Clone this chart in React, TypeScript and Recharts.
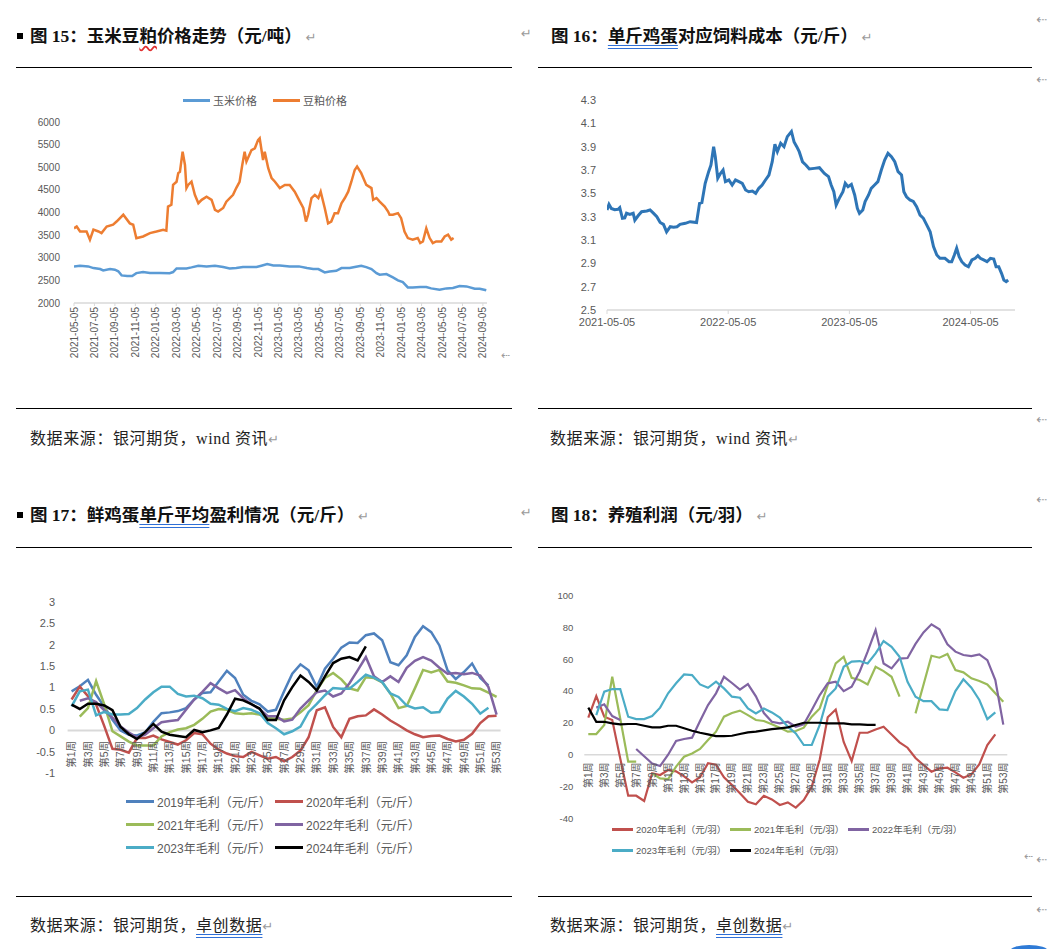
import React from 'react';
import { LineChart, Line, XAxis, YAxis, ReferenceLine } from 'recharts';

// 图15 玉米 / 豆粕价格（元/吨）
const feedTickLabels = [
  '2021-05-05', '2021-07-05', '2021-09-05', '2021-11-05', '2022-01-05', '2022-03-05', '2022-05-05',
  '2022-07-05', '2022-09-05', '2022-11-05', '2023-01-05', '2023-03-05', '2023-05-05', '2023-07-05',
  '2023-09-05', '2023-11-05', '2024-01-05', '2024-03-05', '2024-05-05', '2024-07-05', '2024-09-05',
];
const feedPriceTicks = [2000, 2500, 3000, 3500, 4000, 4500, 5000, 5500, 6000];

const cornPrice: [string, number][] = [
  ['2021-05-05', 2809], ['2021-05-23', 2824], ['2021-06-17', 2809], ['2021-07-02', 2772], ['2021-07-22', 2750],
  ['2021-07-31', 2720], ['2021-08-21', 2750], ['2021-09-05', 2735], ['2021-09-15', 2700], ['2021-09-25', 2610],
  ['2021-10-11', 2595], ['2021-10-26', 2595], ['2021-11-08', 2660], ['2021-11-28', 2684], ['2021-12-18', 2665],
  ['2022-01-17', 2665], ['2022-02-16', 2660], ['2022-02-26', 2684], ['2022-03-06', 2765], ['2022-04-05', 2765],
  ['2022-04-20', 2787], ['2022-05-10', 2824], ['2022-06-04', 2809], ['2022-06-29', 2824], ['2022-07-23', 2794],
  ['2022-08-12', 2765], ['2022-09-01', 2772], ['2022-09-21', 2794], ['2022-10-31', 2794], ['2022-11-15', 2824],
  ['2022-12-02', 2860], ['2022-12-20', 2830], ['2023-01-09', 2830], ['2023-02-08', 2809], ['2023-03-05', 2809],
  ['2023-03-29', 2772], ['2023-04-17', 2750], ['2023-05-02', 2750], ['2023-05-21', 2676], ['2023-06-05', 2698],
  ['2023-06-25', 2713], ['2023-07-10', 2772], ['2023-08-04', 2772], ['2023-08-19', 2794], ['2023-09-08', 2824],
  ['2023-09-23', 2794], ['2023-10-08', 2750], ['2023-10-23', 2660], ['2023-11-02', 2625], ['2023-11-22', 2640],
  ['2023-12-11', 2566], ['2023-12-26', 2500], ['2024-01-10', 2463], ['2024-01-25', 2345], ['2024-02-09', 2345],
  ['2024-03-01', 2353], ['2024-03-19', 2353], ['2024-04-03', 2323], ['2024-04-28', 2294], ['2024-05-18', 2323],
  ['2024-06-07', 2330], ['2024-06-27', 2375], ['2024-07-17', 2367], ['2024-08-11', 2316], ['2024-08-26', 2316],
  ['2024-09-15', 2280],
];

const mealPrice: [string, number][] = [
  ['2021-05-05', 3650], ['2021-05-13', 3690], ['2021-05-23', 3580], ['2021-06-12', 3580], ['2021-06-22', 3400],
  ['2021-07-02', 3620], ['2021-07-17', 3580], ['2021-07-26', 3545], ['2021-08-11', 3690], ['2021-08-30', 3730],
  ['2021-09-10', 3800], ['2021-09-30', 3950], ['2021-10-19', 3760], ['2021-10-29', 3730], ['2021-11-08', 3430],
  ['2021-11-28', 3470], ['2021-12-18', 3545], ['2022-01-07', 3580], ['2022-01-27', 3620], ['2022-02-06', 3600],
  ['2022-02-11', 4130], ['2022-02-21', 4170], ['2022-02-26', 4610], ['2022-03-06', 4680], ['2022-03-11', 4870],
  ['2022-03-16', 4900], ['2022-03-24', 5345], ['2022-03-31', 5050], ['2022-04-05', 4540], ['2022-04-10', 4610],
  ['2022-04-20', 4680], ['2022-04-30', 4390], ['2022-05-10', 4205], ['2022-05-20', 4280], ['2022-06-04', 4350],
  ['2022-06-19', 4280], ['2022-06-29', 4060], ['2022-07-08', 4020], ['2022-07-23', 4100], ['2022-08-02', 4240],
  ['2022-08-22', 4390], ['2022-09-01', 4540], ['2022-09-11', 4680], ['2022-09-19', 5050], ['2022-09-26', 5345],
  ['2022-10-01', 5125], ['2022-10-16', 5380], ['2022-10-26', 5420], ['2022-11-05', 5600], ['2022-11-10', 5640],
  ['2022-11-20', 5160], ['2022-11-25', 5340], ['2022-12-05', 4980], ['2022-12-15', 4760], ['2022-12-25', 4680],
  ['2023-01-09', 4540], ['2023-01-24', 4610], ['2023-02-08', 4610], ['2023-02-23', 4460], ['2023-03-08', 4240],
  ['2023-03-18', 4100], ['2023-03-26', 3800], ['2023-04-02', 3950], ['2023-04-12', 4320], ['2023-04-22', 4390],
  ['2023-05-02', 4320], ['2023-05-09', 4460], ['2023-05-21', 4100], ['2023-05-31', 3760], ['2023-06-10', 3800],
  ['2023-06-20', 3985], ['2023-06-30', 3985], ['2023-07-10', 4205], ['2023-07-20', 4320], ['2023-07-30', 4460],
  ['2023-08-09', 4680], ['2023-08-19', 4940], ['2023-08-26', 5015], ['2023-09-08', 4870], ['2023-09-23', 4610],
  ['2023-10-08', 4540], ['2023-10-13', 4280], ['2023-10-23', 4320], ['2023-11-02', 4240], ['2023-11-17', 4130],
  ['2023-11-27', 4020], ['2023-12-01', 3950], ['2023-12-11', 3950], ['2023-12-26', 3985], ['2024-01-05', 3875],
  ['2024-01-15', 3580], ['2024-01-25', 3435], ['2024-02-09', 3400], ['2024-02-24', 3435], ['2024-03-01', 3325],
  ['2024-03-09', 3360], ['2024-03-19', 3650], ['2024-03-29', 3435], ['2024-04-08', 3325], ['2024-04-18', 3360],
  ['2024-05-03', 3360], ['2024-05-13', 3470], ['2024-05-23', 3510], ['2024-06-02', 3400], ['2024-06-09', 3435],
];

// 图16 单斤鸡蛋对应饲料成本（元/斤）
const eggCostTickLabels = ['2021-05-05', '2022-05-05', '2023-05-05', '2024-05-05'];
const eggCostYTicks = [2.5, 2.7, 2.9, 3.1, 3.3, 3.5, 3.7, 3.9, 4.1, 4.3];
const eggFeedCost: [string, number][] = [
  ['2021-05-05', 3.357], ['2021-05-11', 3.406], ['2021-05-18', 3.37], ['2021-05-28', 3.36], ['2021-06-08', 3.363],
  ['2021-06-13', 3.377], ['2021-06-21', 3.286], ['2021-06-28', 3.29], ['2021-07-03', 3.33], ['2021-07-13', 3.32],
  ['2021-07-23', 3.33], ['2021-07-28', 3.27], ['2021-08-08', 3.31], ['2021-08-18', 3.343], ['2021-09-03', 3.349],
  ['2021-09-13', 3.357], ['2021-09-23', 3.33], ['2021-10-03', 3.3], ['2021-10-13', 3.25], ['2021-10-23', 3.234],
  ['2021-11-02', 3.17], ['2021-11-13', 3.214], ['2021-11-23', 3.21], ['2021-12-03', 3.214], ['2021-12-12', 3.234],
  ['2021-12-28', 3.243], ['2022-01-12', 3.257], ['2022-02-01', 3.25], ['2022-02-10', 3.414], ['2022-02-17', 3.42],
  ['2022-02-27', 3.586], ['2022-03-07', 3.686], ['2022-03-14', 3.743], ['2022-03-22', 3.9], ['2022-03-27', 3.814],
  ['2022-04-04', 3.63], ['2022-04-12', 3.67], ['2022-04-20', 3.7], ['2022-04-27', 3.6], ['2022-05-07', 3.614],
  ['2022-05-17', 3.571], ['2022-05-27', 3.614], ['2022-06-07', 3.6], ['2022-06-17', 3.586], ['2022-06-27', 3.529],
  ['2022-07-06', 3.514], ['2022-07-17', 3.52], ['2022-07-27', 3.5], ['2022-08-06', 3.543], ['2022-08-16', 3.571],
  ['2022-08-26', 3.614], ['2022-09-06', 3.657], ['2022-09-16', 3.771], ['2022-09-24', 3.92], ['2022-10-01', 3.857],
  ['2022-10-11', 3.93], ['2022-10-21', 3.9], ['2022-10-31', 3.986], ['2022-11-13', 4.03], ['2022-11-21', 3.94],
  ['2022-11-29', 3.9], ['2022-12-06', 3.857], ['2022-12-16', 3.77], ['2022-12-26', 3.743], ['2023-01-06', 3.709],
  ['2023-01-21', 3.714], ['2023-02-06', 3.72], ['2023-02-21', 3.671], ['2023-03-03', 3.643], ['2023-03-11', 3.571],
  ['2023-03-19', 3.514], ['2023-03-26', 3.4], ['2023-04-05', 3.457], ['2023-04-16', 3.514], ['2023-04-23', 3.586],
  ['2023-05-01', 3.557], ['2023-05-11', 3.577], ['2023-05-21', 3.486], ['2023-05-29', 3.371], ['2023-06-05', 3.329],
  ['2023-06-15', 3.357], ['2023-06-22', 3.429], ['2023-07-02', 3.486], ['2023-07-10', 3.543], ['2023-07-20', 3.571],
  ['2023-07-30', 3.6], ['2023-08-10', 3.7], ['2023-08-20', 3.786], ['2023-08-30', 3.843], ['2023-09-10', 3.814],
  ['2023-09-20', 3.771], ['2023-09-30', 3.686], ['2023-10-10', 3.657], ['2023-10-17', 3.514], ['2023-10-25', 3.471],
  ['2023-11-05', 3.443], ['2023-11-15', 3.43], ['2023-11-25', 3.386], ['2023-12-05', 3.314], ['2023-12-15', 3.286],
  ['2023-12-25', 3.229], ['2024-01-05', 3.171], ['2024-01-15', 3.043], ['2024-01-25', 2.971], ['2024-02-04', 2.943],
  ['2024-02-19', 2.943], ['2024-03-01', 2.914], ['2024-03-09', 2.914], ['2024-03-17', 2.971], ['2024-03-24', 3.029],
  ['2024-04-01', 2.957], ['2024-04-09', 2.914], ['2024-04-19', 2.886], ['2024-04-29', 2.871], ['2024-05-09', 2.929],
  ['2024-05-19', 2.943], ['2024-05-27', 2.966], ['2024-06-04', 2.943], ['2024-06-14', 2.929], ['2024-06-24', 2.914],
  ['2024-07-04', 2.943], ['2024-07-14', 2.937], ['2024-07-21', 2.871], ['2024-07-29', 2.871], ['2024-08-07', 2.814],
  ['2024-08-14', 2.757], ['2024-08-21', 2.743], ['2024-08-27', 2.757],
];

// 周度类目（图17、图18共用）
const weeks = [
  '第1周', '第2周', '第3周', '第4周', '第5周', '第6周', '第7周', '第8周', '第9周', '第10周',
  '第11周', '第12周', '第13周', '第14周', '第15周', '第16周', '第17周', '第18周', '第19周', '第20周',
  '第21周', '第22周', '第23周', '第24周', '第25周', '第26周', '第27周', '第28周', '第29周', '第30周',
  '第31周', '第32周', '第33周', '第34周', '第35周', '第36周', '第37周', '第38周', '第39周', '第40周',
  '第41周', '第42周', '第43周', '第44周', '第45周', '第46周', '第47周', '第48周', '第49周', '第50周',
  '第51周', '第52周', '第53周',
];

// 图17 鲜鸡蛋单斤平均盈利（元/斤）
const eggProfit2019 = [0.91, 1.03, 1.18, 0.83, 0.55, 0.25, 0.0, -0.1, -0.12, -0.05, 0.2, 0.4, 0.42, 0.45, 0.52, 0.72, 0.87, 0.89, 1.14, 1.39, 1.22, 0.83, 0.69, 0.61, 0.44, 0.48, 0.91, 1.32, 1.54, 1.4, 1.01, 1.44, 1.67, 1.93, 2.05, 2.04, 2.22, 2.26, 2.1, 1.59, 1.52, 1.75, 2.18, 2.43, 2.29, 1.98, 1.4, 1.2, 1.36, 1.56, 1.22, 1.05, null];
const eggProfit2020 = [0.72, 1.02, 0.8, 0.6, 0.1, -0.43, -0.45, -0.52, -0.18, -0.18, -0.12, -0.21, -0.27, -0.33, -0.23, -0.06, -0.09, -0.31, -0.45, -0.54, -0.6, -0.62, -0.5, -0.58, -0.66, -0.62, -0.72, -0.62, -0.47, -0.16, 0.47, 0.54, 0.08, -0.16, 0.27, 0.33, 0.35, 0.49, 0.37, 0.23, 0.12, 0.0, -0.09, -0.16, -0.13, -0.12, -0.2, -0.26, -0.22, -0.08, 0.17, 0.33, 0.34];
const eggProfit2021 = [null, 0.32, 0.52, 1.15, 0.6, -0.02, -0.14, -0.26, -0.35, -0.35, -0.35, -0.14, -0.04, 0.02, 0.05, 0.13, 0.27, 0.44, 0.5, 0.48, 0.4, 0.38, 0.4, 0.37, 0.29, 0.27, 0.25, 0.28, 0.42, 0.59, 0.94, 1.22, 1.34, 1.19, 0.98, 0.93, 1.24, 1.22, 1.12, 0.86, 0.52, 0.57, 0.98, 1.41, 1.35, 1.41, 1.14, 1.11, 1.05, 0.98, 0.97, 0.88, 0.78];
const eggProfit2022 = [null, 0.69, 0.75, 0.66, 0.47, 0.3, 0.09, -0.05, -0.16, -0.1, 0.05, 0.19, 0.22, 0.24, 0.48, 0.72, 0.9, 1.1, 0.98, 0.87, 0.94, 0.75, 0.61, 0.5, 0.33, 0.33, 0.21, 0.25, 0.51, 0.7, 0.89, 0.93, 0.79, 0.86, 1.1, 1.4, 1.71, 1.26, 1.13, 1.26, 1.13, 1.46, 1.62, 1.71, 1.63, 1.46, 1.32, 1.34, 1.31, 1.34, 1.28, 1.01, 0.37];
const eggProfit2023 = [0.56, 0.91, 0.95, 0.35, 0.43, 0.37, 0.37, 0.38, 0.52, 0.72, 0.89, 1.02, 1.02, 0.85, 0.79, 0.81, 0.75, 0.62, 0.6, 0.5, 0.45, 0.52, 0.48, 0.4, 0.17, 0.05, -0.09, -0.02, 0.09, 0.43, 0.62, 0.82, 0.99, 0.97, 0.97, 1.13, 1.3, 1.23, 1.13, 0.86, 0.78, 0.58, 0.51, 0.54, 0.41, 0.43, 0.74, 0.92, 0.79, 0.62, 0.39, 0.53, null];
const eggProfit2024 = [0.6, 0.5, 0.62, 0.62, 0.58, 0.47, 0.08, -0.09, -0.2, -0.04, 0.15, -0.03, -0.1, -0.13, -0.16, 0.01, -0.04, 0.0, 0.06, 0.37, 0.74, 0.7, 0.61, 0.51, 0.24, 0.24, 0.7, 1.01, 1.28, 1.13, 0.93, 1.26, 1.57, 1.67, 1.71, 1.63, 1.96, null, null, null, null, null, null, null, null, null, null, null, null, null, null, null, null];
const eggProfitTicks = [-1, -0.5, 0, 0.5, 1, 1.5, 2, 2.5, 3];

// 图18 养殖利润（元/羽）
const layerProfit2020 = [23.3, 36.9, 23.9, 21.8, -2.3, -25.8, -25.8, -29.1, -11.7, -12.8, -9.6, -10.5, -13.6, -17.4, -14.2, -5.4, -6.3, -14.2, -19.1, -24.3, -29.6, -31.2, -25.8, -28.1, -31.6, -30.0, -33.3, -28.5, -20.1, -3.0, 23.6, 28.4, 8.0, -4.0, 13.8, 13.8, 15.9, 17.6, 12.7, 7.8, 4.4, -2.1, -6.5, -10.7, -8.6, -8.2, -11.1, -14.5, -12.4, -6.0, 6.1, 12.8, null];
const layerProfit2021 = [13, 13, 18.7, 49, 22.8, -4.4, -4.4, null, -11.7, -14.9, -15.3, -7.5, -1.3, 0.8, 3.6, 9.2, 14.5, 23.9, 26.2, 27.7, 24.9, 21.8, 21.2, 19.1, 17, 14.5, 14.9, 17, 23.9, 29.1, 43.8, 57.4, 61.6, 48.4, 47, 44.2, 55.3, 52.6, 49, 36.5, null, 26, 44, 62.2, 61, 63.3, 53.2, 51.8, 48, 46.3, 44.2, 38.6, 33.3];
const layerProfit2022 = [null, 29.6, 31.7, 24.3, 21.8, null, 3.6, -1, -5.5, -7.1, 0, 8.6, 9.9, 10.7, 21.2, 31.2, 38.6, 49, 45.1, 40.9, 44.4, 36.7, 26.2, 20.7, 19.7, 20.7, 17.6, 19.1, 28.1, 37.5, 44.9, 45.9, 40, 42.8, 52.2, 64.8, 78.4, 57.4, 54.3, 60.4, 60.8, 69.7, 76.9, 82, 78.9, 69.4, 64.8, 62.7, 62, 63.1, 59.5, 47, 18.9];
const layerProfit2023 = [null, 24.9, 39.6, 41.3, 41.3, 23.9, 22.4, 22.4, 24.3, 29.6, 38.6, 44.9, 50.5, 50.1, 44.2, 42.1, 45.9, 41.7, 36.5, 35.8, 29.1, 26, 29.1, 26.6, 23.3, 17.6, 13.4, 6.1, 6.1, 18.7, 36.5, 41.7, 55.3, 58.5, 58.9, 57.4, 63.7, 71.5, 67.9, 61.6, 45.9, 36.5, 33.7, 33.7, 28.5, 28.1, 40, 47.4, 42.1, 34.4, 22.4, 26.6, null];
const layerProfit2024 = [29.6, 20.7, 20.7, 19.7, 19.1, 19.3, 19.3, 18.2, 17.2, 17.2, 18.2, 18.2, 16.6, 15.1, 13.8, 12.8, 11.7, 11.7, 11.9, 13, 14, 14.5, 15.3, 16.1, 16.6, 17.2, 18.7, 20.1, 20.1, 20.1, 19.7, 19.7, 19.7, 19.1, 19.1, 18.7, 18.7, null, null, null, null, null, null, null, null, null, null, null, null, null, null, null, null];
const layerProfitTicks = [-40, -20, 0, 20, 40, 60, 80, 100];

const AXIS_FONT = "'Liberation Sans', 'Noto Sans CJK SC', sans-serif";
const DOC_FONT = "'Liberation Serif', 'Noto Sans CJK SC', serif";
const AXIS_GRAY = '#595959';

// months since 2021-05-05
const monthIndex = (d: string) => {
  const [y, m, day] = d.split('-').map(Number);
  return (y - 2021) * 12 + (m - 5) + (day - 5) / 30.4;
};
const toSeries = (rows: [string, number][]) => rows.map(([d, v]) => ({ t: monthIndex(d), v }));

const nearestLabel = (labels: string[], value: number) => {
  let best = 0;
  labels.forEach((l, i) => {
    if (Math.abs(monthIndex(l) - value) < Math.abs(monthIndex(labels[best]) - value)) best = i;
  });
  return labels[best];
};

const RotatedTick = ({ x, y, text, size }: { x: number; y: number; text: string; size: number }) => (
  <text
    x={x}
    y={y}
    dy="0.35em"
    textAnchor="end"
    transform={`rotate(-90 ${x} ${y})`}
    fontSize={size}
    fill={AXIS_GRAY}
    fontFamily={AXIS_FONT}
  >
    {text}
  </text>
);

const LegendLine = ({ color, width, text, size }: { color: string; width: number; text: string; size: number }) => (
  <div style={{ display: 'flex', alignItems: 'center', whiteSpace: 'nowrap' }}>
    <div style={{ width, height: 3, background: color, marginRight: 3 }} />
    <span style={{ fontSize: size, color: AXIS_GRAY, fontFamily: AXIS_FONT }}>{text}</span>
  </div>
);

// ---------- 图15 ----------
function FeedPriceChart() {
  const ticks = feedTickLabels.map(monthIndex);
  const series = [
    { name: '玉米价格', color: '#5B9BD5', data: toSeries(cornPrice) },
    { name: '豆粕价格', color: '#ED7D31', data: toSeries(mealPrice) },
  ];
  return (
    <>
      <div style={{ position: 'absolute', left: 20, top: 85 }}>
        <LineChart width={480} height={290} margin={{ top: 37, right: 13, left: 0, bottom: 12 }}>
          <XAxis
            type="number"
            dataKey="t"
            domain={[0, 40.4]}
            ticks={ticks}
            interval={0}
            allowDataOverflow
            height={60}
            tickSize={3}
            tickMargin={1}
            axisLine={{ stroke: '#d9d9d9', strokeWidth: 1.5 }}
            tickLine={{ stroke: '#d9d9d9' }}
            tick={(p: any) => <RotatedTick x={p.x} y={p.y} text={nearestLabel(feedTickLabels, p.payload.value)} size={10} />}
          />
          <YAxis
            domain={[2000, 6000]}
            ticks={feedPriceTicks}
            width={54}
            axisLine={false}
            tickLine={false}
            tickSize={6}
            tickMargin={8}
            tick={{ fontSize: 10, fill: AXIS_GRAY, fontFamily: AXIS_FONT }}
          />
          {series.map((s) => (
            <Line
              key={s.name}
              data={s.data}
              dataKey="v"
              type="linear"
              stroke={s.color}
              strokeWidth={2.5}
              dot={false}
              isAnimationActive={false}
            />
          ))}
        </LineChart>
      </div>
      <div style={{ position: 'absolute', left: 183, top: 92, display: 'flex', gap: 16 }}>
        {series.map((s) => (
          <LegendLine key={s.name} color={s.color} width={27} text={s.name} size={11} />
        ))}
      </div>
    </>
  );
}

// ---------- 图16 ----------
function EggFeedCostChart() {
  const ticks = eggCostTickLabels.map(monthIndex);
  return (
    <div style={{ position: 'absolute', left: 540, top: 85 }}>
      <LineChart width={490} height={260} margin={{ top: 15, right: 15, left: 27, bottom: 5 }}>
        <XAxis
          type="number"
          dataKey="t"
          domain={[0, 40.4]}
          ticks={ticks}
          interval={0}
          allowDataOverflow
          height={30}
          tickSize={4}
          tickMargin={4}
          axisLine={{ stroke: '#d9d9d9', strokeWidth: 1.5 }}
          tickLine={{ stroke: '#d9d9d9' }}
          tickFormatter={(v: number) => nearestLabel(eggCostTickLabels, v)}
          tick={{ fontSize: 11, fill: AXIS_GRAY, fontFamily: AXIS_FONT }}
        />
        <YAxis
          domain={[2.5, 4.3]}
          ticks={eggCostYTicks}
          width={40}
          axisLine={false}
          tickLine={false}
          tickSize={5}
          tickMargin={6}
          tickFormatter={(v: number) => v.toFixed(1)}
          tick={{ fontSize: 11, fill: AXIS_GRAY, fontFamily: AXIS_FONT }}
        />
        <Line
          data={toSeries(eggFeedCost)}
          dataKey="v"
          type="linear"
          stroke="#2E75B6"
          strokeWidth={3}
          dot={false}
          isAnimationActive={false}
        />
      </LineChart>
    </div>
  );
}

// ---------- 图17 ----------
const eggSeries = [
  { key: 'y2019', name: '2019年毛利（元/斤）', color: '#4F81BD', values: eggProfit2019 },
  { key: 'y2020', name: '2020年毛利（元/斤）', color: '#C0504D', values: eggProfit2020 },
  { key: 'y2021', name: '2021年毛利（元/斤）', color: '#9BBB59', values: eggProfit2021 },
  { key: 'y2022', name: '2022年毛利（元/斤）', color: '#8064A2', values: eggProfit2022 },
  { key: 'y2023', name: '2023年毛利（元/斤）', color: '#4BACC6', values: eggProfit2023 },
  { key: 'y2024', name: '2024年毛利（元/斤）', color: '#000000', values: eggProfit2024 },
];

function EggProfitChart() {
  const rows = weeks.map((w, i) => {
    const r: any = { week: w };
    eggSeries.forEach((s) => (r[s.key] = s.values[i]));
    return r;
  });
  // plot: top 11.7, height 171.6, domain [-1, 3] -> zero at 140.4
  const labelTop = 151;
  return (
    <>
      <div style={{ position: 'absolute', left: 10, top: 590 }}>
        <LineChart width={510} height={200} data={rows} margin={{ top: 11.7, right: 19.4, left: 17.6, bottom: 6.7 }}>
          <XAxis
            dataKey="week"
            interval={1}
            height={10}
            padding={{ left: 4, right: 4 }}
            axisLine={false}
            tickLine={false}
            tick={(p: any) => <RotatedTick x={p.x} y={labelTop} text={p.payload.value} size={10.5} />}
          />
          <YAxis
            domain={[-1, 3]}
            ticks={eggProfitTicks}
            width={40}
            axisLine={false}
            tickLine={false}
            tickSize={6}
            tickMargin={6.5}
            tick={{ fontSize: 11, fill: AXIS_GRAY, fontFamily: AXIS_FONT }}
          />
          <ReferenceLine y={0} stroke="#d9d9d9" strokeWidth={2} />
          {eggSeries.map((s) => (
            <Line
              key={s.key}
              dataKey={s.key}
              type="linear"
              stroke={s.color}
              strokeWidth={2.5}
              dot={false}
              isAnimationActive={false}
            />
          ))}
        </LineChart>
      </div>
      {eggSeries.map((s, i) => (
        <div
          key={s.key}
          style={{ position: 'absolute', left: i % 2 === 0 ? 126 : 275, top: 793 + Math.floor(i / 2) * 23 }}
        >
          <LegendLine color={s.color} width={28} text={s.name} size={12} />
        </div>
      ))}
    </>
  );
}

// ---------- 图18 ----------
const layerSeries = [
  { key: 'y2020', name: '2020年毛利（元/羽）', color: '#C0504D', values: layerProfit2020 },
  { key: 'y2021', name: '2021年毛利（元/羽）', color: '#9BBB59', values: layerProfit2021 },
  { key: 'y2022', name: '2022年毛利（元/羽）', color: '#8064A2', values: layerProfit2022 },
  { key: 'y2023', name: '2023年毛利（元/羽）', color: '#4BACC6', values: layerProfit2023 },
  { key: 'y2024', name: '2024年毛利（元/羽）', color: '#000000', values: layerProfit2024 },
];

function LayerProfitChart() {
  const rows = weeks.map((w, i) => {
    const r: any = { week: w };
    layerSeries.forEach((s) => (r[s.key] = s.values[i]));
    return r;
  });
  // plot: top 10.7, height 222.6, domain [-40, 100] -> zero at 169.7
  const labelTop = 177.5;
  return (
    <>
      <div style={{ position: 'absolute', left: 530, top: 585 }}>
        <LineChart width={490} height={240} data={rows} margin={{ top: 10.7, right: 12.7, left: 14.3, bottom: 5.7 }}>
          <XAxis
            dataKey="week"
            interval={1}
            height={1}
            padding={{ left: 4, right: 4 }}
            axisLine={false}
            tickLine={false}
            tick={(p: any) => <RotatedTick x={p.x} y={labelTop} text={p.payload.value} size={10} />}
          />
          <YAxis
            domain={[-40, 100]}
            ticks={layerProfitTicks}
            width={40}
            axisLine={false}
            tickLine={false}
            tickSize={6}
            tickMargin={5}
            tick={{ fontSize: 9.5, fill: AXIS_GRAY, fontFamily: AXIS_FONT }}
          />
          <ReferenceLine y={0} stroke="#d9d9d9" strokeWidth={1.5} />
          {layerSeries.map((s) => (
            <Line
              key={s.key}
              dataKey={s.key}
              type="linear"
              stroke={s.color}
              strokeWidth={2.2}
              dot={false}
              isAnimationActive={false}
            />
          ))}
        </LineChart>
      </div>
      {layerSeries.map((s, i) => (
        <div
          key={s.key}
          style={{ position: 'absolute', left: [612, 730, 848][i % 3], top: 822 + Math.floor(i / 3) * 21 }}
        >
          <LegendLine color={s.color} width={21} text={s.name} size={9.5} />
        </div>
      ))}
    </>
  );
}

// ---------- 文档框架 ----------
const markStyle: React.CSSProperties = { color: '#9a9a9a', fontWeight: 400, fontSize: 13, fontFamily: "'DejaVu Sans', sans-serif" };
const proofBlue: React.CSSProperties = { textDecoration: 'underline double #2f6fd6', textUnderlineOffset: 3 };
const proofRed: React.CSSProperties = { textDecoration: 'underline wavy #e03030', textUnderlineOffset: 3 };

const Title = ({ left, top, bullet, lead, children }: any) => (
  <>
    {bullet && <div style={{ position: 'absolute', left: 17, top: top + 8, width: 6, height: 6, background: '#000' }} />}
    {lead && <div style={{ position: 'absolute', left: 521, top: top + 1, ...markStyle }}>↵</div>}
    <div
      style={{
        position: 'absolute',
        left,
        top,
        fontFamily: DOC_FONT,
        fontWeight: 700,
        fontSize: 17.5,
        lineHeight: '22px',
        color: '#111',
        whiteSpace: 'nowrap',
      }}
    >
      {children}
      <span style={{ ...markStyle, marginLeft: 4 }}>↵</span>
    </div>
  </>
);

const Source = ({ left, top, children }: any) => (
  <div
    style={{
      position: 'absolute',
      left,
      top,
      fontFamily: DOC_FONT,
      fontSize: 16,
      letterSpacing: 0.6,
      lineHeight: '22px',
      color: '#222',
      whiteSpace: 'nowrap',
    }}
  >
    {children}
    <span style={markStyle}>↵</span>
  </div>
);

const Rule = ({ left, top, width }: { left: number; top: number; width: number }) => (
  <div style={{ position: 'absolute', left, top, width, height: 1.3, background: '#000' }} />
);

export default function App() {
  return (
    <div style={{ position: 'absolute', left: 0, top: 0, width: 1063, height: 949, background: '#fff', overflow: 'hidden' }}>
      <Title left={30} top={25} bullet>
        图 15：玉米豆<span style={proofRed}>粕</span>价格走势（元/吨）
      </Title>
      <Title left={551} top={25} lead>
        图 16：<span style={proofBlue}>单斤鸡蛋</span>对应饲料成本（元/斤）
      </Title>
      <Title left={30} top={504} bullet>
        图 17：鲜鸡蛋<span style={proofBlue}>单斤平均</span>盈利情况（元/斤）
      </Title>
      <Title left={551} top={504} lead>
        图 18：养殖利润（元/羽）
      </Title>

      <Rule left={16} top={67} width={496} />
      <Rule left={538} top={67} width={494} />
      <Rule left={16} top={408} width={496} />
      <Rule left={538} top={408} width={494} />
      <Rule left={16} top={547} width={496} />
      <Rule left={538} top={547} width={494} />
      <Rule left={16} top={896} width={496} />
      <Rule left={538} top={896} width={494} />

      <FeedPriceChart />
      <EggFeedCostChart />
      <EggProfitChart />
      <LayerProfitChart />

      <Source left={30} top={428}>数据来源：银河期货，wind 资讯</Source>
      <Source left={550} top={428}>数据来源：银河期货，wind 资讯</Source>
      <Source left={30} top={915}>
        数据来源：银河期货，<span style={proofBlue}>卓创数据</span>
      </Source>
      <Source left={550} top={915}>
        数据来源：银河期货，<span style={proofBlue}>卓创数据</span>
      </Source>

      {[12, 72, 412, 492, 852, 902].map((t) => (
        <div key={t} style={{ position: 'absolute', left: 1036, top: t, ...markStyle }}>⇠</div>
      ))}
      <div style={{ position: 'absolute', left: 501, top: 349, ...markStyle, fontSize: 11 }}>⇠</div>
      <div style={{ position: 'absolute', left: 1024, top: 850, ...markStyle, fontSize: 11 }}>⇠</div>
      <div style={{ position: 'absolute', left: 1010, top: 945, width: 38, height: 12, borderRadius: '50%', background: '#2f7bd6' }} />
    </div>
  );
}
